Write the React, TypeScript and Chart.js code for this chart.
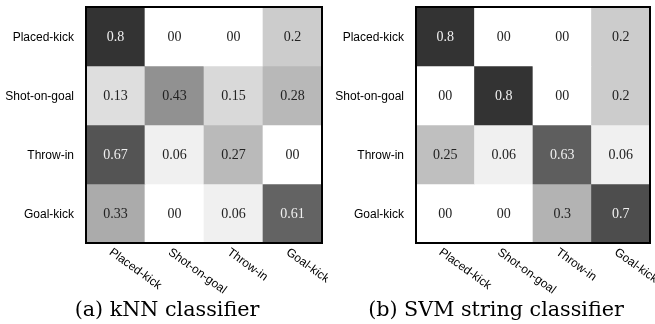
import React, { useEffect, useRef } from "react";
import { Chart, registerables } from "chart.js";

Chart.register(...registerables);

const categories = ["Placed-kick", "Shot-on-goal", "Throw-in", "Goal-kick"];

const knnValues: number[][] = [
  [0.8, 0, 0, 0.2],
  [0.13, 0.43, 0.15, 0.28],
  [0.67, 0.06, 0.27, 0],
  [0.33, 0, 0.06, 0.61],
];

const svmValues: number[][] = [
  [0.8, 0, 0, 0.2],
  [0, 0.8, 0, 0.2],
  [0.25, 0.06, 0.63, 0.06],
  [0, 0, 0.3, 0.7],
];

const captions = ["(a) kNN classifier", "(b) SVM string classifier"];

const grayFor = (v: number) => {
  const g = Math.round(255 * (1 - v));
  return `rgb(${g},${g},${g})`;
};
const fmt = (v: number) => (v === 0 ? "00" : String(v));

const matrixPlugin = {
  id: "matrixLabels",
  afterDatasetsDraw(chart: any) {
    const { ctx, chartArea, scales } = chart;
    const values: number[][] = chart.options.plugins.matrixLabels.values;
    ctx.save();
    // cell values
    ctx.font = '14px "Liberation Serif", "Times New Roman", serif';
    ctx.textAlign = "center";
    ctx.textBaseline = "middle";
    chart.data.datasets.forEach((ds: any, r: number) => {
      const meta = chart.getDatasetMeta(r);
      meta.data.forEach((el: any, c: number) => {
        const v = values[r][c];
        ctx.fillStyle = v > 0.5 ? "#f0f0f0" : "#222";
        ctx.fillText(fmt(v), el.x, (el.y + el.base) / 2 + 1);
      });
    });
    // frame
    ctx.strokeStyle = "#000";
    ctx.lineWidth = 2;
    ctx.strokeRect(
      chartArea.left,
      chartArea.top,
      chartArea.right - chartArea.left,
      chartArea.bottom - chartArea.top
    );
    // row labels
    ctx.font = '12px "Liberation Sans", Arial, sans-serif';
    ctx.fillStyle = "#000";
    ctx.textAlign = "right";
    categories.forEach((lab, r) => {
      const y = scales.y.getPixelForValue(r + 0.5);
      ctx.fillText(lab, chartArea.left - 12, y + 1);
    });
    // column labels, rotated clockwise
    ctx.textAlign = "left";
    ctx.textBaseline = "middle";
    categories.forEach((lab, c) => {
      const x = scales.x.getPixelForValue(c);
      ctx.save();
      ctx.translate(x - 5, chartArea.bottom + 8);
      ctx.rotate((36 * Math.PI) / 180);
      ctx.fillText(lab, 0, 0);
      ctx.restore();
    });
    ctx.restore();
  },
};

function Matrix({ values, padding }: { values: number[][]; padding: any }) {
  const ref = useRef<HTMLCanvasElement | null>(null);
  useEffect(() => {
    if (!ref.current) return;
    const chart = new Chart(ref.current, {
      type: "bar",
      data: {
        labels: categories,
        datasets: values.map((row, r) => ({
          label: categories[r],
          data: row.map(() => [r, r + 1]) as any,
          backgroundColor: row.map(grayFor),
          borderWidth: 0,
          categoryPercentage: 1,
          barPercentage: 1,
          grouped: false,
        })),
      },
      options: {
        animation: false,
        responsive: false,
        maintainAspectRatio: false,
        layout: { padding },
        scales: {
          x: { type: "category", display: false, offset: true },
          y: { type: "linear", min: 0, max: 4, reverse: true, display: false },
        },
        plugins: {
          legend: { display: false },
          tooltip: { enabled: false },
          matrixLabels: { values },
        } as any,
      },
      plugins: [matrixPlugin],
    });
    return () => chart.destroy();
  }, [values, padding]);
  return <canvas ref={ref} width={328} height={324} style={{ width: 328, height: 324, display: "block" }} />;
}

const padA = { left: 86, right: 6, top: 7, bottom: 81 };
const padB = { left: 89, right: 5, top: 7, bottom: 81 };

export default function App() {
  const capStyle: React.CSSProperties = {
    position: "absolute",
    top: 296,
    fontFamily: '"DejaVu Serif", serif',
    fontSize: 20.7,
    lineHeight: "26px",
    color: "#000",
    textAlign: "center",
    whiteSpace: "nowrap",
    transform: "translateX(-50%)",
  };
  return (
    <div style={{ position: "absolute", left: 0, top: 0, width: 655, height: 324, overflow: "hidden", background: "#fff" }}>
      <div style={{ position: "absolute", left: 0, top: 0 }}>
        <Matrix values={knnValues} padding={padA} />
      </div>
      <div style={{ position: "absolute", left: 327, top: 0 }}>
        <Matrix values={svmValues} padding={padB} />
      </div>
      <div style={{ ...capStyle, left: 167 }}>{captions[0]}</div>
      <div style={{ ...capStyle, left: 496 }}>{captions[1]}</div>
    </div>
  );
}
